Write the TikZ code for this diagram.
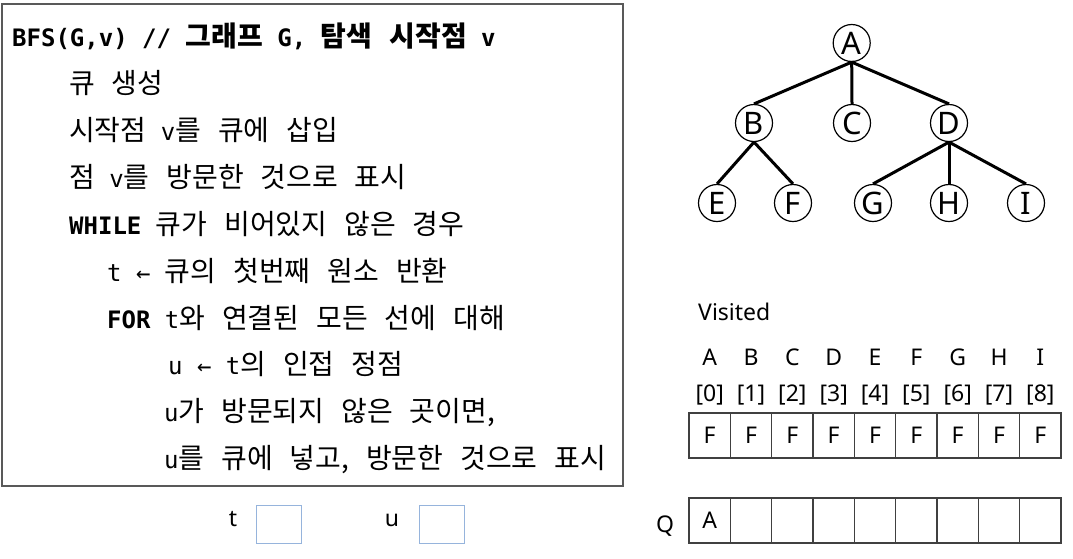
\documentclass[tikz,border=0pt]{standalone}
\usepackage{fontspec}
\setmainfont{Noto Sans}
\setmonofont{DejaVu Sans Mono}
\newfontfamily\krfont[WordSpace=2.7]{Noto Sans CJK KR}
\usetikzlibrary{positioning}

\definecolor{boxblue}{RGB}{150,180,220}
\newcommand{\kr}[1]{{\krfont\fontsize{28}{32}\selectfont #1}}

\tikzset{
  codeline/.style={anchor=base west, inner sep=0pt, font=\ttfamily\fontsize{24}{28}\selectfont},
  vertex/.style={draw, circle, minimum size=37pt, inner sep=0pt, line width=1.2pt, font=\fontsize{31}{31}\selectfont},
  edge/.style={line width=3pt},
  cell/.style={draw=black!75, line width=1.4pt, minimum width=41.33pt, minimum height=45pt, inner sep=0pt, font=\fontsize{23}{23}\selectfont},
  tag/.style={anchor=base, inner sep=0pt, font=\fontsize{23}{23}\selectfont},
  varbox/.style={draw=boxblue, line width=1pt, minimum width=45pt, minimum height=38pt}
}

\begin{document}
\begin{tikzpicture}[x=1pt,y=-1pt]
  \useasboundingbox (0,0) rectangle (1073,558);

  % pseudo code
  \draw[black!65, line width=1.5pt] (2,4) rectangle (623,486);
  \node[codeline] (l1) at (12,46) {\bfseries BFS(G,v) // \kr{그래프} G, \kr{탐색 시작점} v};
  \node[codeline] (l2) at (69,93) {\kr{큐 생성}};
  \node[codeline] (l3) at (69,140) {\kr{시작점} v\kr{를 큐에 삽입}};
  \node[codeline] (l4) at (69,187) {\kr{점} v\kr{를 방문한 것으로 표시}};
  \node[codeline] (l5) at (69,234) {\textbf{WHILE} \kr{큐가 비어있지 않은 경우}};
  \node[codeline] (l6) at (107,281) {t ← \kr{큐의 첫번째 원소 반환}};
  \node[codeline] (l7) at (107,328) {\textbf{FOR} t\kr{와 연결된 모든 선에 대해}};
  \node[codeline] (l8) at (168,374) {u ← t\kr{의 인접 정점}};
  \node[codeline] (l9) at (164,421) {u\kr{가 방문되지 않은 곳이면,}};
  \node[codeline] (l10) at (164,468) {u\kr{를 큐에 넣고, 방문한 것으로 표시}};

  % t, u
  \node[tag] (tlab) at (233,526) {t};
  \node[varbox] (tbox) at (278.5,524) {};
  \node[tag] (ulab) at (392,526) {u};
  \node[varbox] (ubox) at (441.5,524) {};

  % tree
  \node[vertex] (A) at (851.7,43) {A};
  \node[vertex] (B) at (754,123) {B};
  \node[vertex] (C) at (852,123) {C};
  \node[vertex] (D) at (949,123) {D};
  \node[vertex] (E) at (717,203) {E};
  \node[vertex] (F) at (793,203) {F};
  \node[vertex] (G) at (873,203) {G};
  \node[vertex] (H) at (949,203) {H};
  \node[vertex] (I) at (1026,203) {I};
  \foreach \p/\c in {A/B,A/C,A/D,B/E,B/F,D/G,D/H,D/I}
    \draw[edge] (\p.south) -- (\c.north);

  % visited and queue
  \node[tag, anchor=base west] (vis) at (698,320) {Visited};
  \node[tag] (qlab) at (665,532) {Q};
  \foreach \l [count=\i from 0] in {A,B,C,D,E,F,G,H,I} {
    \node[tag] (h\i) at (709.7+41.33*\i,365) {\l};
    \node[tag] (n\i) at (709.7+41.33*\i,401) {[\i]};
    \node[cell] (v\i) at (709.7+41.33*\i,435.5) {F};
    \node[cell] (q\i) at (709.7+41.33*\i,520.5) {\ifnum\i=0 A\fi};
  }
\end{tikzpicture}
\end{document}
